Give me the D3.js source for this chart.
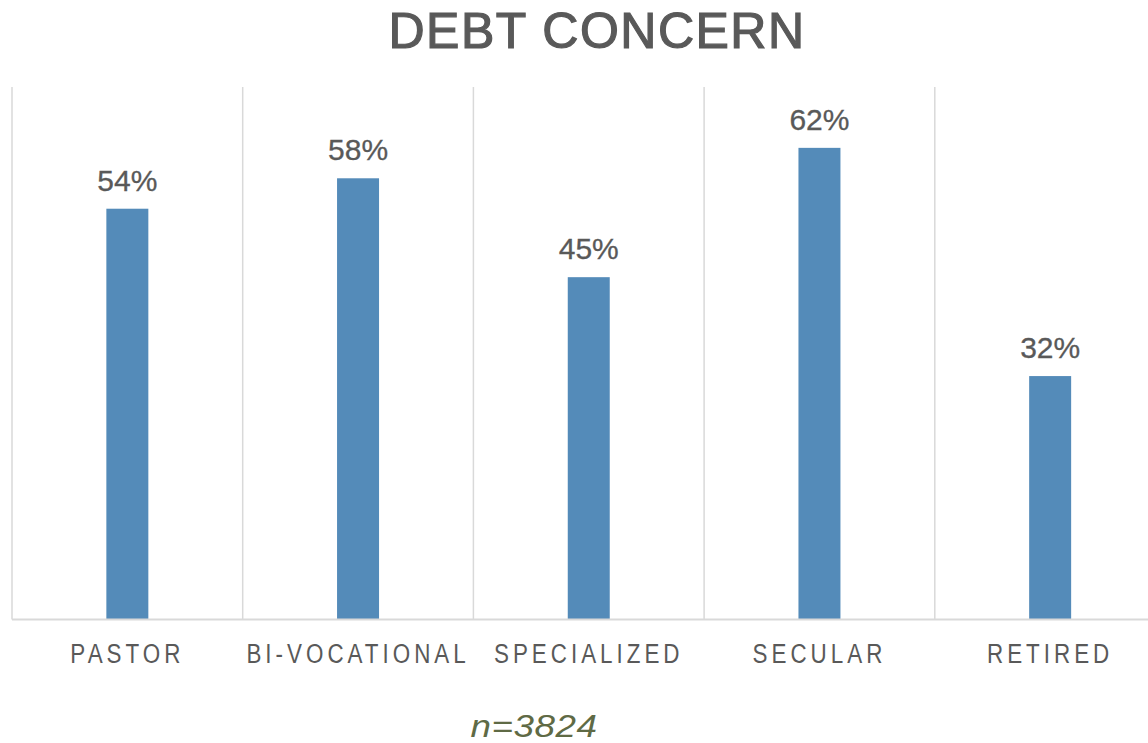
<!DOCTYPE html>
<html>
<head>
<meta charset="utf-8">
<script src="https://cdn.jsdelivr.net/npm/d3@7"></script>
<style>
  body { margin: 0; background: #fff; overflow: hidden; }
  svg { display: block; }
</style>
</head>
<body>
<script>
var categories = ["PASTOR", "BI-VOCATIONAL", "SPECIALIZED", "SECULAR", "RETIRED"];
var values = [54, 58, 45, 62, 32];
var yMax = 70;

var w = 1148,
    h = 743,
    plotLeft = 12,
    plotRight = 1165.5,
    plotTop = 87,
    plotBottom = 619.5;

var svg = d3.select("body").append("svg")
    .attr("width", w)
    .attr("height", h);

var xScale = d3.scaleBand()
    .domain(categories)
    .range([plotLeft, plotRight])
    .padding(0);

var yScale = d3.scaleLinear()
    .domain([0, yMax])
    .range([plotBottom, plotTop]);

var barW = xScale.bandwidth() * 0.182;

// title
svg.append("text")
    .attr("x", 597)
    .attr("y", 48)
    .attr("text-anchor", "middle")
    .attr("font-family", "Liberation Sans, Arial, sans-serif")
    .attr("font-size", 50)
    .attr("letter-spacing", 1.5)
    .attr("fill", "#595959")
    .attr("stroke", "#595959")
    .attr("stroke-width", 1.2)
    .text("DEBT CONCERN");

// vertical category dividers
svg.append("g")
    .selectAll("line")
    .data(categories)
    .enter()
    .append("line")
    .attr("x1", function(d) { return xScale(d); })
    .attr("x2", function(d) { return xScale(d); })
    .attr("y1", plotTop)
    .attr("y2", plotBottom)
    .attr("stroke", "#d9d9d9")
    .attr("stroke-width", 1.5);

// bars
svg.append("g")
    .selectAll("rect")
    .data(values)
    .enter()
    .append("rect")
    .attr("x", function(d, i) { return xScale(categories[i]) + xScale.bandwidth() / 2 - barW / 2; })
    .attr("y", function(d) { return yScale(d); })
    .attr("width", barW)
    .attr("height", function(d) { return plotBottom - yScale(d); })
    .attr("fill", "#548bb9");

// baseline
svg.append("line")
    .attr("x1", plotLeft)
    .attr("x2", w)
    .attr("y1", plotBottom)
    .attr("y2", plotBottom)
    .attr("stroke", "#d9d9d9")
    .attr("stroke-width", 2);

// value labels
svg.append("g")
    .selectAll("text")
    .data(values)
    .enter()
    .append("text")
    .attr("x", function(d, i) { return xScale(categories[i]) + xScale.bandwidth() / 2; })
    .attr("y", function(d) { return yScale(d) - 18; })
    .attr("text-anchor", "middle")
    .attr("font-family", "Liberation Sans, Arial, sans-serif")
    .attr("font-size", 30)
    .attr("fill", "#595959")
    .attr("stroke", "#595959")
    .attr("stroke-width", 0.3)
    .text(function(d) { return d + "%"; });

// category labels (narrow, spaced caps)
svg.append("g")
    .selectAll("g")
    .data(categories)
    .enter()
    .append("g")
    .attr("transform", function(d) {
        return "translate(" + (xScale(d) + xScale.bandwidth() / 2) + ",663) scale(0.8,1)";
    })
    .append("text")
    .attr("text-anchor", "middle")
    .attr("font-family", "Liberation Sans, Arial, sans-serif")
    .attr("font-size", 28)
    .attr("letter-spacing", 5)
    .attr("fill", "#595959")
    .text(function(d) { return d; });

// sample size note
svg.append("g")
    .attr("transform", "translate(534,737) scale(1.15,1)")
    .append("text")
    .attr("text-anchor", "middle")
    .attr("font-family", "Liberation Sans, Arial, sans-serif")
    .attr("font-style", "italic")
    .attr("font-size", 32)
    .attr("letter-spacing", 0.5)
    .attr("fill", "#5f6a45")
    .text("n=3824");
</script>
</body>
</html>
